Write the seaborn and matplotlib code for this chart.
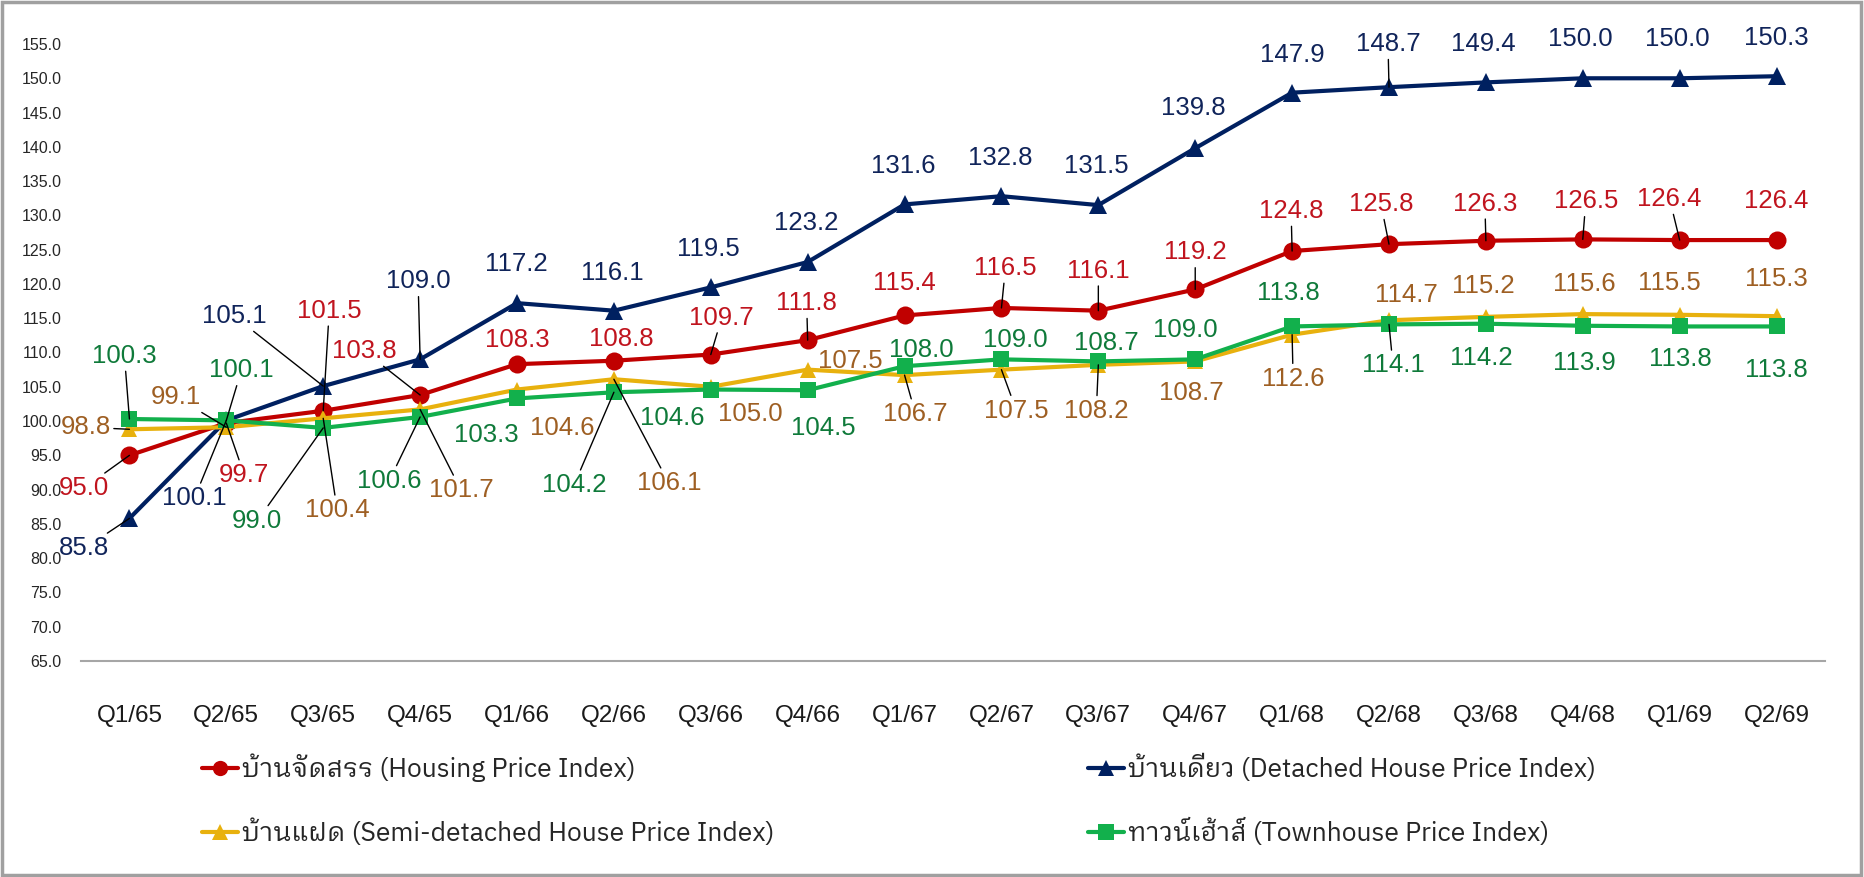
import matplotlib
matplotlib.use("Agg")
import matplotlib.pyplot as plt
from matplotlib import font_manager
from matplotlib.ft2font import FT2Font
from matplotlib.lines import Line2D
from matplotlib.patches import Rectangle
import pandas as pd
import seaborn as sns

quarters = ["Q1/65", "Q2/65", "Q3/65", "Q4/65", "Q1/66", "Q2/66", "Q3/66", "Q4/66", "Q1/67",
            "Q2/67", "Q3/67", "Q4/67", "Q1/68", "Q2/68", "Q3/68", "Q4/68", "Q1/69", "Q2/69"]
housing = [95.0, 99.7, 101.5, 103.8, 108.3, 108.8, 109.7, 111.8, 115.4,
           116.5, 116.1, 119.2, 124.8, 125.8, 126.3, 126.5, 126.4, 126.4]
detached = [85.8, 100.1, 105.1, 109.0, 117.2, 116.1, 119.5, 123.2, 131.6,
            132.8, 131.5, 139.8, 147.9, 148.7, 149.4, 150.0, 150.0, 150.3]
semi = [98.8, 99.1, 100.4, 101.7, 104.6, 106.1, 105.0, 107.5, 106.7,
        107.5, 108.2, 108.7, 112.6, 114.7, 115.2, 115.6, 115.5, 115.3]
townhouse = [100.3, 100.1, 99.0, 100.6, 103.3, 104.2, 104.6, 104.5, 108.0,
             109.0, 108.7, 109.0, 113.8, 114.1, 114.2, 113.9, 113.8, 113.8]

names = ["บ้านจัดสรร (Housing Price Index)",
         "บ้านเดี่ยว (Detached House Price Index)",
         "บ้านแฝด (Semi-detached House Price Index)",
         "ทาวน์เฮ้าส์ (Townhouse Price Index)"]

line_colors = ["#C00000", "#002060", "#E8B10E", "#12B04C"]
label_colors = ["#C0141E", "#10245A", "#9E5F23", "#0F7A3A"]
markers = ["o", "^", "^", "s"]
marker_sizes = [13, 13, 11, 12]

# label offsets in pixels (dx, dy with dy pointing down), and whether a leader line is drawn
label_pos = [
    [(-46, 33), (18, 52), (6, -100), (-56, -44), (0, -24), (7, -22), (11, -37), (-1, -37), (0, -32),
     (4, -40), (0, -40), (0, -37), (-1, -40), (-8, -40), (-1, -37), (3, -38), (-10, -41), (0, -39)],
    [(-45, 30), (-32, 78), (-89, -70), (-2, -78), (-1, -39), (-2, -38), (-2, -38), (-1, -39), (-1, -38),
     (-1, -38), (-2, -39), (-2, -40), (0, -38), (-1, -43), (-3, -38), (-2, -39), (-2, -39), (0, -38)],
    [(-44, -2), (-50, -30), (14, 92), (41, 81), (45, 38), (55, 104), (40, 27), (43, -9), (11, 39),
     (15, 41), (-2, 46), (-4, 32), (1, 44), (17, -25), (-3, -31), (2, -30), (-10, -32), (0, -37)],
    [(-5, -63), (15, -50), (-66, 93), (-31, 64), (-31, 37), (-40, 93), (-39, 28), (16, 38), (17, -16),
     (14, -19), (8, -18), (-10, -29), (-4, -33), (4, 41), (-5, 34), (2, 37), (1, 33), (0, 44)],
]
leaders = [
    [1, 1, 1, 1, 0, 0, 1, 1, 0, 1, 1, 1, 1, 1, 1, 1, 1, 0],
    [1, 1, 1, 1, 0, 0, 0, 0, 0, 0, 0, 0, 0, 1, 0, 0, 0, 0],
    [1, 1, 1, 1, 0, 1, 0, 0, 1, 1, 1, 0, 1, 0, 0, 0, 0, 0],
    [1, 1, 1, 1, 0, 1, 0, 0, 0, 0, 0, 0, 0, 1, 0, 0, 0, 0],
]


def find_thai_font():
    found = []
    for f in font_manager.fontManager.ttflist:
        try:
            if 0x0E1A in FT2Font(f.fname).get_charmap():
                found.append(f.name)
        except Exception:
            pass
    found.sort(key=lambda n: (0 if "Looped" in n else 1 if "Sans" in n else 2, n))
    return found[0] if found else None


sns.set_style("white")
installed = {f.name for f in font_manager.fontManager.ttflist}
thai = find_thai_font()
base = ["Liberation Sans", "DejaVu Sans"]
plt.rcParams["font.family"] = base
legend_family = ([n for n in ["Liberation Sans Narrow"] if n in installed]
                 + ([thai] if thai else []) + base)

df = pd.DataFrame({
    "pos": list(range(len(quarters))) * 4,
    "value": housing + detached + semi + townhouse,
    "series": [n for n in names for _ in quarters],
})

fig = plt.figure(figsize=(18.65, 8.77), dpi=100)
ax = fig.add_axes([81 / 1865, 216 / 877, (1825 - 81) / 1865, (661 - 44) / 877])

for name, col, mk, ms in zip(names, line_colors, markers, marker_sizes):
    sns.lineplot(data=df[df["series"] == name], x="pos", y="value", color=col, marker=mk,
                 markersize=ms, markeredgewidth=0, linewidth=3, ax=ax, legend=False)

ax.set_xlim(-0.5, len(quarters) - 0.5)
ax.set_ylim(65, 155)
ax.set_yticks(range(65, 156, 5))
ax.set_yticklabels([f"{v:.1f}" for v in range(65, 156, 5)], fontsize=11.5, color="#262626")
ax.set_xticks(range(len(quarters)))
ax.set_xticklabels(quarters, fontsize=17.5, color="#1a1a1a")
ax.tick_params(axis="y", length=0, pad=14)
ax.tick_params(axis="x", length=0, pad=32)
ax.set_xlabel("")
ax.set_ylabel("")
for s in ["top", "right", "left"]:
    ax.spines[s].set_visible(False)
ax.spines["bottom"].set_color("#A6A6A6")
ax.spines["bottom"].set_linewidth(1.5)

all_values = [housing, detached, semi, townhouse]
for k, vals in enumerate(all_values):
    for i, v in enumerate(vals):
        dx, dy = label_pos[k][i]
        props = None
        if leaders[k][i]:
            props = dict(arrowstyle="-", color="black", lw=1, shrinkA=0, shrinkB=0)
        ax.annotate(f"{v:.1f}", xy=(i, v), xytext=(dx, -dy), textcoords="offset pixels",
                    ha="center", va="center", fontsize=18.5, color=label_colors[k],
                    annotation_clip=False, arrowprops=props)

legend_spots = [(202, 768), (1088, 768), (202, 832), (1088, 832)]
for name, col, mk, (lx, ly) in zip(names, line_colors, markers, legend_spots):
    h = Line2D([0], [0], color=col, marker=mk, markersize=11, markeredgewidth=0, linewidth=3)
    fig.legend(handles=[h], labels=[name], loc="center left", bbox_to_anchor=(lx / 1865, 1 - ly / 877),
               frameon=False, borderpad=0, borderaxespad=0, handlelength=1.35, handletextpad=0.15,
               prop={"family": legend_family, "size": 19})

fig.patches.append(Rectangle((0.001, 0.002), 0.997, 0.996, transform=fig.transFigure, fill=False,
                             edgecolor="#A0A0A0", linewidth=2.5))

fig.savefig("out.png", dpi=100)
